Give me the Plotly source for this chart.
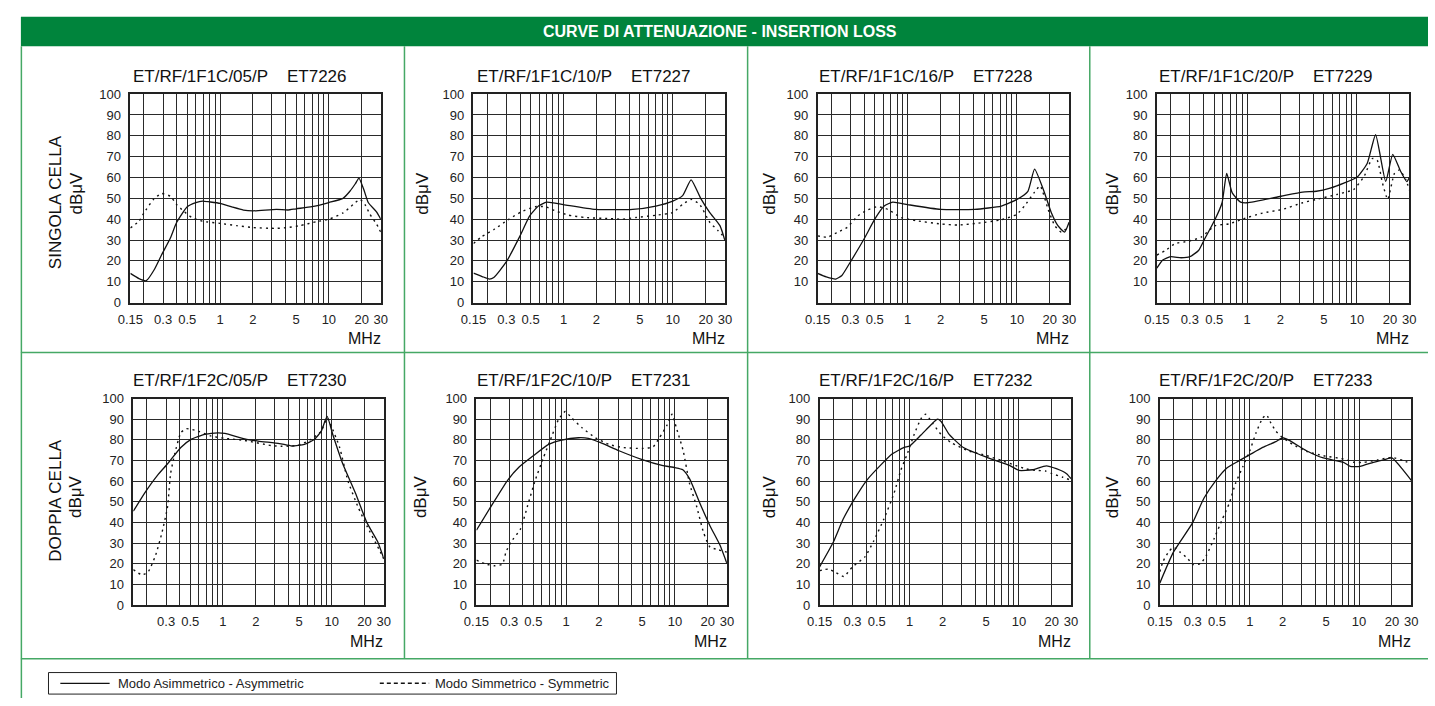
import math
import plotly.graph_objects as go

W, H = 1435, 706

# ---------------- data (frequency in MHz, attenuation in dBuV) ----------------
TITLES = ["ET/RF/1F1C/05/P\u00a0\u00a0\u00a0\u00a0ET7226", "ET/RF/1F1C/10/P\u00a0\u00a0\u00a0\u00a0ET7227",
          "ET/RF/1F1C/16/P\u00a0\u00a0\u00a0\u00a0ET7228", "ET/RF/1F1C/20/P\u00a0\u00a0\u00a0\u00a0ET7229",
          "ET/RF/1F2C/05/P\u00a0\u00a0\u00a0\u00a0ET7230", "ET/RF/1F2C/10/P\u00a0\u00a0\u00a0\u00a0ET7231",
          "ET/RF/1F2C/16/P\u00a0\u00a0\u00a0\u00a0ET7232", "ET/RF/1F2C/20/P\u00a0\u00a0\u00a0\u00a0ET7233"]

F_7226_A = [0.15, 0.18, 0.21, 0.25, 0.29, 0.35, 0.4, 0.5, 0.6, 0.69, 0.8, 1.0, 1.3, 1.64, 2.0, 3.3, 4.2, 5.0, 7.0, 10, 13.5, 15.6, 17.5, 18.9, 21, 23, 27.4, 30]
V_7226_A = [14, 11.5, 10.5, 16, 22.8, 31, 38.5, 46, 48, 48.7, 48.3, 47.6, 45.8, 44.4, 44, 44.7, 44.4, 45, 46, 48, 50, 53.4, 57, 59.7, 54, 48, 43.5, 40]
F_7226_S = [0.15, 0.18, 0.2, 0.245, 0.29, 0.35, 0.4, 0.46, 0.55, 0.69, 1.0, 1.42, 2.0, 3.3, 4.2, 5.4, 7.7, 10, 13.5, 16.7, 19.3, 21.5, 23.8, 27.4, 30]
V_7226_S = [35.8, 39, 43, 49.5, 52.3, 51, 47, 44, 40.8, 39, 38, 36.9, 36, 35.6, 36, 36.9, 38.8, 40, 43, 47, 49.5, 47, 42.4, 37.7, 33.8]

F_7227_A = [0.15, 0.18, 0.21, 0.23, 0.3, 0.4, 0.49, 0.59, 0.7, 1.0, 1.96, 4.3, 7.0, 10, 12.3, 14.7, 18, 21.8, 27, 30]
V_7227_A = [14.1, 12.5, 11.3, 12, 19.6, 32, 41.6, 46.3, 48.2, 47, 44.7, 44.7, 46.3, 48.7, 51.3, 58.9, 50, 43.2, 36.9, 29.8]
F_7227_S = [0.15, 0.176, 0.235, 0.31, 0.41, 0.55, 0.68, 0.84, 1.1, 1.58, 2.6, 3.45, 4.6, 7.0, 10, 12.3, 14.7, 17.6, 21.8, 26, 30]
V_7227_S = [28.3, 31.4, 35.3, 39.7, 43.5, 46, 46, 44, 42, 40.8, 40.3, 40, 40.8, 41.9, 43.2, 47.1, 49.5, 47.1, 38.5, 34.5, 31]

F_7228_A = [0.15, 0.18, 0.22, 0.25, 0.3, 0.4, 0.5, 0.61, 0.73, 1.0, 2.0, 4.1, 7.2, 10, 12.6, 14.5, 17.9, 20.6, 23.7, 27.3, 30]
V_7228_A = [14, 12.3, 11.3, 13, 19.6, 30.6, 40, 46.3, 48.2, 47, 44.7, 44.7, 46.3, 49.5, 53.4, 64, 52.6, 43.2, 36.9, 33.8, 38.5]
F_7228_S = [0.15, 0.185, 0.23, 0.28, 0.35, 0.43, 0.53, 0.66, 0.87, 1.23, 2.0, 2.9, 4.4, 7.2, 10, 11.7, 14.5, 16.3, 19.3, 22.2, 25.5, 30]
V_7228_S = [32, 31.4, 33.8, 36.1, 41.6, 44.4, 46, 44.7, 40.8, 39.2, 37.7, 37.2, 38.1, 39.7, 42.4, 46.3, 53, 56, 44.7, 36.9, 33.8, 36.6]

F_7229_A = [0.15, 0.17, 0.2, 0.25, 0.3, 0.36, 0.41, 0.51, 0.59, 0.65, 0.73, 0.87, 1.0, 2.03, 3.2, 4.27, 5.7, 7.6, 10, 12.4, 14.8, 18.3, 21.2, 25, 28.5, 30]
V_7229_A = [16.5, 20.4, 22, 21.5, 22, 25, 30.6, 40, 47.9, 62, 52.6, 48.2, 47.9, 51, 53, 53.4, 54.9, 57.3, 60.1, 66.7, 80.5, 58.1, 71.1, 63, 58, 60]
F_7229_S = [0.15, 0.18, 0.22, 0.29, 0.38, 0.51, 0.68, 0.9, 1.37, 2.1, 3.2, 4.27, 6.5, 9.3, 11.6, 13.8, 15.3, 17.1, 19.1, 22, 24.4, 28, 30]
V_7229_S = [22.8, 25, 28.3, 29.4, 31.4, 36.9, 37.7, 40, 42.9, 44.7, 47.9, 49.5, 51.8, 54.2, 60.4, 69.1, 68.3, 57.3, 49.5, 62, 63.6, 58.9, 54]

F_7230_A = [0.15, 0.19, 0.25, 0.31, 0.41, 0.51, 0.68, 0.9, 1.04, 1.58, 2.1, 3.3, 4.3, 5.6, 6.9, 8.0, 9.05, 10.2, 12.6, 16.5, 21, 26.5, 30]
V_7230_A = [45.4, 54.1, 62.8, 68.4, 76.3, 80.2, 82.6, 83.4, 83.1, 80.5, 79.4, 78.2, 77, 77.8, 80.2, 84.2, 91.3, 82.6, 68.4, 54.1, 39.9, 30.4, 22.5]
F_7230_S = [0.15, 0.18, 0.205, 0.24, 0.275, 0.31, 0.33, 0.36, 0.41, 0.46, 0.59, 0.78, 1.04, 1.58, 2.77, 3.4, 4.3, 5.2, 6.4, 8.0, 9.05, 10.0, 11.8, 14, 17.3, 21, 27, 30]
V_7230_S = [17.2, 14.6, 16, 24, 35, 47.8, 63.6, 73.1, 83.4, 85.4, 84.2, 81.8, 80.7, 79.7, 77.2, 76.9, 77, 77.8, 80.2, 84.2, 90.5, 86, 76.3, 60.4, 47.8, 38.3, 27.2, 22.3]

F_7231_A = [0.15, 0.2, 0.29, 0.37, 0.5, 0.69, 0.91, 1.3, 1.6, 2.07, 3.06, 5.0, 7.6, 10, 11.8, 13.6, 16.9, 21, 26, 30]
V_7231_A = [36.2, 47, 60.4, 66.8, 72.3, 77.8, 79.9, 81, 80.7, 78.6, 74.7, 70.4, 67.6, 66.5, 65.5, 61.2, 49.4, 38.3, 28.8, 20.1]
F_7231_S = [0.15, 0.185, 0.22, 0.26, 0.28, 0.31, 0.38, 0.45, 0.52, 0.62, 0.71, 0.85, 0.98, 1.13, 1.4, 1.86, 2.47, 3.27, 5.0, 6.3, 7.2, 8.5, 9.4, 10.3, 11.9, 13.6, 15.8, 18.3, 21, 24.5, 30]
V_7231_S = [21.7, 19.8, 19, 19.8, 25.6, 30.4, 36.7, 49.4, 60.4, 71.5, 79.4, 89.7, 93.7, 90.5, 85.8, 81, 77.8, 76.3, 75.8, 76.6, 81, 87.3, 92.4, 85.8, 74.7, 58.9, 47.8, 35.1, 28, 26.9, 25.6]

F_7232_A = [0.15, 0.2, 0.246, 0.31, 0.405, 0.54, 0.69, 0.89, 1.0, 1.27, 1.57, 1.8, 1.94, 2.3, 3.1, 5.1, 8.2, 10, 13.3, 17.8, 22, 27.3, 30]
V_7232_A = [18.5, 30.4, 41.5, 51, 60.4, 67.6, 73.1, 76.3, 77, 82.3, 87.3, 90, 88.9, 82.6, 76.3, 71.5, 67.6, 65.2, 65.5, 67.4, 66, 63.6, 61.2]
F_7232_S = [0.15, 0.18, 0.21, 0.25, 0.3, 0.39, 0.47, 0.58, 0.72, 0.83, 0.95, 1.1, 1.27, 1.4, 1.62, 1.94, 2.4, 3.43, 5.1, 7.0, 9.3, 11.5, 14.2, 17.5, 20.1, 24.9, 30]
V_7232_S = [16.6, 17.4, 15.8, 13.8, 18.5, 23.3, 31.1, 41.5, 54.1, 65.2, 73.1, 82.6, 90.2, 92.4, 88.1, 82.6, 78.6, 74.7, 72.3, 69.9, 67.6, 66, 65.2, 64.9, 63.6, 62, 60.4]

F_7233_A = [0.15, 0.2, 0.3, 0.38, 0.49, 0.62, 0.8, 1.0, 1.31, 1.73, 2.0, 2.3, 3.3, 4.7, 7.2, 8.3, 10.2, 13.5, 16.8, 20, 25.4, 30]
V_7233_A = [10.6, 25.6, 39.9, 51.7, 60.4, 66.5, 69.9, 72.8, 76.3, 79.1, 81, 79.7, 74.7, 71.2, 69.1, 67.1, 67.1, 69.1, 70.3, 71.2, 65.2, 60.4]
F_7233_S = [0.15, 0.16, 0.18, 0.2, 0.23, 0.27, 0.3, 0.355, 0.4, 0.47, 0.56, 0.65, 0.74, 0.86, 1.0, 1.14, 1.31, 1.42, 1.56, 1.73, 2.0, 2.47, 3.3, 4.7, 7.2, 9.0, 11.1, 14.9, 20, 25.4, 30]
V_7233_S = [16.1, 20.9, 25.6, 28, 25.6, 22.5, 19.6, 20.1, 24, 32, 41.5, 49.4, 58.9, 66.8, 74.7, 83.4, 90.5, 92.1, 88.1, 84.2, 81, 77.8, 74.4, 72.3, 70.7, 69.1, 69.1, 70.3, 71.5, 69.9, 68.4]

SERIES = [
    (F_7226_A, V_7226_A, F_7226_S, V_7226_S),
    (F_7227_A, V_7227_A, F_7227_S, V_7227_S),
    (F_7228_A, V_7228_A, F_7228_S, V_7228_S),
    (F_7229_A, V_7229_A, F_7229_S, V_7229_S),
    (F_7230_A, V_7230_A, F_7230_S, V_7230_S),
    (F_7231_A, V_7231_A, F_7231_S, V_7231_S),
    (F_7232_A, V_7232_A, F_7232_S, V_7232_S),
    (F_7233_A, V_7233_A, F_7233_S, V_7233_S),
]

X_LABEL_VALS = [0.15, 0.3, 0.5, 1, 2, 5, 10, 20, 30]
X_LABEL_TEXT = ["0.15", "0.3", "0.5", "1", "2", "5", "10", "20", "30"]
X_MINOR_GRID = [0.2, 0.4, 0.6, 0.7, 0.8, 0.9, 3, 4, 6, 7, 8, 9]
Y_TICKS = [0, 10, 20, 30, 40, 50, 60, 70, 80, 90, 100]

HEADER = "CURVE DI ATTENUAZIONE - INSERTION LOSS"
ROW_LABELS = ["SINGOLA CELLA", "DOPPIA CELLA"]
UNIT_Y = "dB\u03bcV"
UNIT_X = "MHz"
LEGEND_A = "Modo Asimmetrico - Asymmetric"
LEGEND_S = "Modo Simmetrico - Symmetric"

# ---------------- layout geometry (page pixels) ----------------
PLOT_X = [(119, 373), (467, 722), (816, 1071), (1160, 1416),
          (122, 376), (470, 724), (818, 1073), (1163, 1418)]
PLOT_Y = [(89, 302)] * 4 + [(400, 611)] * 4
TITLE_X = [230, 579, 926, 1271, 230, 579, 926, 1271]
UNIT_Y_X = [64, 415, 767, 1115, 64, 414, 768, 1115]
HIDE_X015 = [False, False, False, False, True, False, False, False]
HIDE_Y0 = [False, False, True, True, False, False, False, False]

FONT = "Liberation Sans, Arial, sans-serif"
GREEN_BAR = "#00843c"
GREEN_LINE = "#45a865"
GRID = "#2a2a2a"


def fx(px):
    return px / W


def fy(py):
    return 1 - py / H


fig = go.Figure()
layout = {}
annotations = []
shapes = []

for i in range(8):
    n = i + 1
    xs = "" if n == 1 else str(n)
    fa, va, fs, vs = SERIES[i]
    fig.add_trace(go.Scatter(x=fa, y=va, mode="lines", xaxis="x" + xs, yaxis="y" + xs,
                             line=dict(color="#111111", width=1.3, shape="spline", smoothing=0.5),
                             showlegend=False, name="Asymmetric"))
    fig.add_trace(go.Scatter(x=fs, y=vs, mode="lines", xaxis="x" + xs, yaxis="y" + xs,
                             line=dict(color="#111111", width=1.4, dash="2px,4px", shape="spline", smoothing=0.5),
                             showlegend=False, name="Symmetric"))
    x0, x1 = PLOT_X[i]
    y0, y1 = PLOT_Y[i]
    xv, xt = [], []
    for v, t in zip(X_LABEL_VALS, X_LABEL_TEXT):
        if v == 0.15 and HIDE_X015[i]:
            continue
        xv.append(v)
        xt.append(t)
    yv = [v for v in Y_TICKS if not (v == 0 and HIDE_Y0[i])]
    layout["xaxis" + xs] = dict(
        domain=[fx(x0), fx(x1)], anchor="y" + xs, type="log",
        range=[math.log10(0.15), math.log10(30)],
        tickmode="array", tickvals=xv, ticktext=xt,
        showgrid=True, gridcolor=GRID, gridwidth=1,
        minor=dict(tickmode="array", tickvals=X_MINOR_GRID, showgrid=True, gridcolor=GRID,
                   gridwidth=1, ticks=""),
        showline=True, mirror=True, linecolor="#222222", linewidth=1.5,
        ticks="", ticklabelstandoff=4, zeroline=False,
        tickfont=dict(family=FONT, size=13, color="#222222"),
    )
    layout["yaxis" + xs] = dict(
        domain=[fy(y1), fy(y0)], anchor="x" + xs, range=[0, 100],
        tickmode="array", tickvals=yv, ticktext=[str(v) for v in yv],
        showgrid=True, gridcolor=GRID, gridwidth=1,
        showline=True, mirror=True, linecolor="#222222", linewidth=1.5,
        ticks="", ticklabelstandoff=5, zeroline=False,
        tickfont=dict(family=FONT, size=13, color="#222222"),
    )
    annotations.append(dict(x=fx(TITLE_X[i]), y=fy(y0 - 18), xref="paper", yref="paper",
                            text=TITLES[i], showarrow=False, xanchor="center", yanchor="middle",
                            font=dict(family=FONT, size=17, color="#111111")))
    annotations.append(dict(x=fx(x1 - 17), y=fy(y1 + 37), xref="paper", yref="paper",
                            text=UNIT_X, showarrow=False, xanchor="center", yanchor="middle",
                            font=dict(family=FONT, size=16, color="#111111")))
    annotations.append(dict(x=fx(UNIT_Y_X[i]), y=fy((y0 + y1) / 2 - 5), xref="paper", yref="paper",
                            text=UNIT_Y, showarrow=False, textangle=-90,
                            xanchor="center", yanchor="middle",
                            font=dict(family=FONT, size=17, color="#111111")))

annotations.append(dict(x=fx(43), y=fy(199), xref="paper", yref="paper", text=ROW_LABELS[0],
                        showarrow=False, textangle=-90, xanchor="center", yanchor="middle",
                        font=dict(family=FONT, size=17, color="#111111")))
annotations.append(dict(x=fx(43), y=fy(504), xref="paper", yref="paper", text=ROW_LABELS[1],
                        showarrow=False, textangle=-90, xanchor="center", yanchor="middle",
                        font=dict(family=FONT, size=17, color="#111111")))

# header bar
shapes.append(dict(type="rect", xref="paper", yref="paper", x0=fx(8), x1=1.0, y0=fy(40), y1=fy(10),
                   fillcolor=GREEN_BAR, line=dict(width=0), layer="below"))
annotations.append(dict(x=fx(717), y=fy(25.5), xref="paper", yref="paper", text="<b>" + HEADER + "</b>",
                        showarrow=False, xanchor="center", yanchor="middle",
                        font=dict(family=FONT, size=16, color="white")))

# frame lines
shapes.append(dict(type="line", xref="paper", yref="paper", x0=fx(8.5), x1=fx(8.5), y0=fy(40), y1=0.0,
                   line=dict(color=GREEN_LINE, width=1.5)))
for vx in (397, 745, 1092):
    shapes.append(dict(type="line", xref="paper", yref="paper", x0=fx(vx), x1=fx(vx), y0=fy(40), y1=fy(666),
                       line=dict(color=GREEN_LINE, width=1.5)))
for hy in (353, 666):
    shapes.append(dict(type="line", xref="paper", yref="paper", x0=fx(8), x1=1.0, y0=fy(hy), y1=fy(hy),
                       line=dict(color=GREEN_LINE, width=1.5)))

# legend
shapes.append(dict(type="rect", xref="paper", yref="paper", x0=fx(36), x1=fx(612), y0=fy(702), y1=fy(680),
                   line=dict(color="#222222", width=1), fillcolor="rgba(0,0,0,0)"))
shapes.append(dict(type="line", xref="paper", yref="paper", x0=fx(48), x1=fx(98), y0=fy(691), y1=fy(691),
                   line=dict(color="#111111", width=1.2)))
shapes.append(dict(type="line", xref="paper", yref="paper", x0=fx(372), x1=fx(422), y0=fy(691), y1=fy(691),
                   line=dict(color="#111111", width=1.5, dash="4px,3px")))
annotations.append(dict(x=fx(104), y=fy(691), xref="paper", yref="paper", text=LEGEND_A, showarrow=False,
                        xanchor="left", yanchor="middle", font=dict(family=FONT, size=13, color="#222222")))
annotations.append(dict(x=fx(426), y=fy(691), xref="paper", yref="paper", text=LEGEND_S, showarrow=False,
                        xanchor="left", yanchor="middle", font=dict(family=FONT, size=13, color="#222222")))

fig.update_layout(
    width=W, height=H, margin=dict(l=0, r=0, t=0, b=0, pad=0),
    paper_bgcolor="white", plot_bgcolor="white",
    showlegend=False, annotations=annotations, shapes=shapes,
    font=dict(family=FONT, color="#111111"),
    **layout,
)

fig.write_html("out.html", config={"displayModeBar": False},
               post_script="document.body.style.margin='0';document.body.style.overflow='hidden';")
